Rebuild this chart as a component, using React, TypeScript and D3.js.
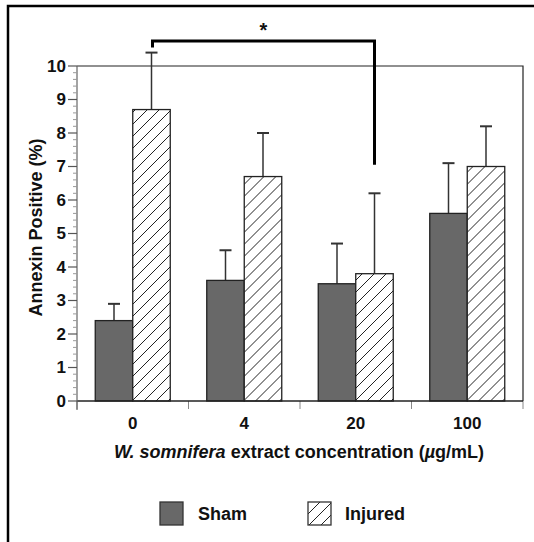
import { useEffect, useRef } from 'react';
import * as d3 from 'd3';

const categories = ['0', '4', '20', '100'];
const series = ['Sham', 'Injured'];
const shamMeans = [2.4, 3.6, 3.5, 5.6];
const shamErrors = [0.5, 0.9, 1.2, 1.5];
const injuredMeans = [8.7, 6.7, 3.8, 7.0];
const injuredErrors = [1.7, 1.3, 2.4, 1.2];
const yTicks = [0, 1, 2, 3, 4, 5, 6, 7, 8, 9, 10];
// significance bracket: injured 0 vs injured 20, leg ends in data units
const bracket = { from: '0', to: '20', leftEnd: 10.55, rightEnd: 7.05, top: 10.75, label: '*' };

export default function App() {
    const ref = useRef<SVGSVGElement>(null);

    useEffect(() => {
        const width = 534;
        const height = 542;
        const margin = { top: 66, right: 11, bottom: 141, left: 77 };
        const font = 'Liberation Sans, Arial, Helvetica, sans-serif';

        const svg = d3.select(ref.current);
        svg.selectAll('*').remove();

        const defs = svg.append('defs');
        const pat = defs.append('pattern')
            .attr('id', 'hatch')
            .attr('patternUnits', 'userSpaceOnUse')
            .attr('width', 12)
            .attr('height', 12);
        pat.append('rect').attr('width', 12).attr('height', 12).attr('fill', '#fff');
        pat.append('path')
            .attr('d', 'M0,12 L12,0 M-3,3 L3,-3 M9,15 L15,9')
            .attr('stroke', '#222')
            .attr('stroke-width', 1);

        // outer frame (left + top)
        svg.append('path')
            .attr('d', `M8,${height} V6 H${width}`)
            .attr('fill', 'none')
            .attr('stroke', '#000')
            .attr('stroke-width', 2.5);

        const x = d3.scaleBand()
            .domain(categories)
            .range([margin.left, width - margin.right]);
        const groupW = 75;
        const xSub = d3.scaleBand()
            .domain(series)
            .range([(x.step() - groupW) / 2, (x.step() + groupW) / 2]);
        const y = d3.scaleLinear()
            .domain([0, 10])
            .range([height - margin.bottom, margin.top]);

        const x0 = margin.left;
        const x1 = width - margin.right;
        const yb = y(0);
        const yt = y(10);

        // plot box top/right
        svg.append('path')
            .attr('d', `M${x0},${yt} H${x1} V${yb}`)
            .attr('fill', 'none')
            .attr('stroke', '#222')
            .attr('stroke-width', 1.2);

        // category boundary ticks
        svg.append('g')
            .selectAll('line')
            .data(d3.range(categories.length + 1))
            .join('line')
            .attr('x1', i => x0 + i * x.step())
            .attr('x2', i => x0 + i * x.step())
            .attr('y1', yb)
            .attr('y2', yb + 8)
            .attr('stroke', '#888')
            .attr('stroke-width', 1);

        // bars
        const rows = categories.map((c, i) => ({
            cat: c,
            vals: [
                { s: 'Sham', v: shamMeans[i], e: shamErrors[i] },
                { s: 'Injured', v: injuredMeans[i], e: injuredErrors[i] },
            ],
        }));

        const groups = svg.append('g')
            .selectAll('g')
            .data(rows)
            .join('g')
            .attr('transform', d => `translate(${x(d.cat)},0)`);

        // error bars (up only)
        groups.selectAll('line.err')
            .data(d => d.vals)
            .join('line')
            .attr('class', 'err')
            .attr('x1', d => xSub(d.s)! + xSub.bandwidth() / 2)
            .attr('x2', d => xSub(d.s)! + xSub.bandwidth() / 2)
            .attr('y1', d => y(d.v))
            .attr('y2', d => y(d.v + d.e))
            .attr('stroke', '#333')
            .attr('stroke-width', 1.5);
        groups.selectAll('line.cap')
            .data(d => d.vals)
            .join('line')
            .attr('class', 'cap')
            .attr('x1', d => xSub(d.s)! + xSub.bandwidth() / 2 - 6)
            .attr('x2', d => xSub(d.s)! + xSub.bandwidth() / 2 + 6)
            .attr('y1', d => y(d.v + d.e))
            .attr('y2', d => y(d.v + d.e))
            .attr('stroke', '#333')
            .attr('stroke-width', 2);

        groups.selectAll('rect')
            .data(d => d.vals)
            .join('rect')
            .attr('x', d => xSub(d.s)!)
            .attr('y', d => y(d.v))
            .attr('width', xSub.bandwidth())
            .attr('height', d => yb - y(d.v))
            .attr('fill', d => (d.s === 'Sham' ? '#686868' : 'url(#hatch)'))
            .attr('stroke', '#222')
            .attr('stroke-width', 1.3);

        // baseline
        svg.append('line')
            .attr('x1', x0).attr('x2', x1)
            .attr('y1', yb).attr('y2', yb)
            .attr('stroke', '#222')
            .attr('stroke-width', 1.3);

        // y axis
        const yAxis = svg.append('g').attr('transform', `translate(${x0},0)`);
        yAxis.append('line')
            .attr('x1', 0).attr('x2', 0)
            .attr('y1', yt).attr('y2', yb + 9)
            .attr('stroke', '#666')
            .attr('stroke-width', 1.2);
        yAxis.selectAll('line.minor')
            .data(d3.range(0, 10.001, 0.2).filter(v => Math.abs(v - Math.round(v)) > 0.01))
            .join('line')
            .attr('class', 'minor')
            .attr('x1', -4).attr('x2', 0)
            .attr('y1', d => y(d)).attr('y2', d => y(d))
            .attr('stroke', '#999')
            .attr('stroke-width', 1);
        yAxis.selectAll('line.major')
            .data(yTicks)
            .join('line')
            .attr('class', 'major')
            .attr('x1', -9).attr('x2', 0)
            .attr('y1', d => y(d)).attr('y2', d => y(d))
            .attr('stroke', '#555')
            .attr('stroke-width', 1.2);
        yAxis.selectAll('text')
            .data(yTicks)
            .join('text')
            .attr('x', -11)
            .attr('y', d => y(d))
            .attr('dy', '0.35em')
            .attr('text-anchor', 'end')
            .attr('font-family', font)
            .attr('font-weight', 'bold')
            .attr('font-size', 17)
            .attr('fill', '#111')
            .text(d => d);

        // category labels
        svg.append('g')
            .selectAll('text')
            .data(categories)
            .join('text')
            .attr('x', d => x(d)! + x.bandwidth() / 2)
            .attr('y', yb + 28)
            .attr('text-anchor', 'middle')
            .attr('font-family', font)
            .attr('font-weight', 'bold')
            .attr('font-size', 17)
            .attr('fill', '#111')
            .text(d => d);

        // axis titles
        const xt = svg.append('text')
            .attr('x', (x0 + x1) / 2 - 1)
            .attr('y', yb + 57)
            .attr('text-anchor', 'middle')
            .attr('font-family', font)
            .attr('font-weight', 'bold')
            .attr('font-size', 18)
            .attr('fill', '#111');
        xt.append('tspan').attr('font-style', 'italic').text('W. somnifera');
        xt.append('tspan').text(' extract concentration (');
        xt.append('tspan').attr('font-style', 'italic').text('µ');
        xt.append('tspan').text('g/mL)');

        svg.append('text')
            .attr('transform', `translate(42,${(yt + yb) / 2 - 6}) rotate(-90)`)
            .attr('text-anchor', 'middle')
            .attr('font-family', font)
            .attr('font-weight', 'bold')
            .attr('font-size', 18)
            .attr('fill', '#111')
            .text('Annexin Positive (%)');

        // significance bracket
        const injCenter = xSub('Injured')! + xSub.bandwidth() / 2;
        const bx0 = x(bracket.from)! + injCenter + 1;
        const bx1 = x(bracket.to)! + injCenter;
        svg.append('path')
            .attr('d', `M${bx0},${y(bracket.leftEnd)} V${y(bracket.top)} H${bx1} V${y(bracket.rightEnd)}`)
            .attr('fill', 'none')
            .attr('stroke', '#000')
            .attr('stroke-width', 3);
        svg.append('text')
            .attr('x', (bx0 + bx1) / 2)
            .attr('y', y(bracket.top) - 4)
            .attr('text-anchor', 'middle')
            .attr('font-family', font)
            .attr('font-weight', 'bold')
            .attr('font-size', 20)
            .attr('fill', '#111')
            .text(bracket.label);

        // legend
        const legend = svg.append('g').attr('transform', 'translate(160,502)');
        const items = legend.selectAll('g')
            .data(series)
            .join('g')
            .attr('transform', (d, i) => `translate(${i * 148},0)`);
        items.append('rect')
            .attr('width', 23)
            .attr('height', 23)
            .attr('fill', d => (d === 'Sham' ? '#686868' : 'url(#hatch)'))
            .attr('stroke', '#333')
            .attr('stroke-width', 1.3);
        items.append('text')
            .attr('x', (d, i) => (i === 0 ? 38 : 37))
            .attr('y', 18)
            .attr('font-family', font)
            .attr('font-weight', 'bold')
            .attr('font-size', 18)
            .attr('fill', '#111')
            .text(d => d);
    }, []);

    return (
        <svg
            ref={ref}
            width={534}
            height={542}
            style={{ position: 'absolute', left: 0, top: 0, background: '#fff' }}
        />
    );
}
